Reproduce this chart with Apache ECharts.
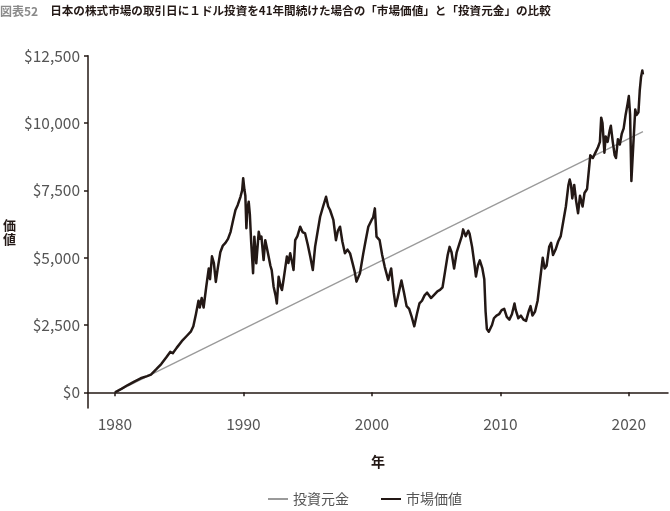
<!DOCTYPE html>
<html><head><meta charset="utf-8">
<script src="https://cdn.jsdelivr.net/npm/echarts@6/dist/echarts.min.js"></script>
<style>html,body{margin:0;padding:0;background:#fff}#c{width:670px;height:511px}</style>
</head><body><div id="c"></div>
<script>
const titleLabel = '図表52';
const titleText = '日本の株式市場の取引日に１ドル投資を41年間続けた場合の「市場価値」と「投資元金」の比較';
const seriesNames = ['投資元金', '市場価値'];
const xTicks = [1980, 1990, 2000, 2010, 2020];
const yTicks = [0, 2500, 5000, 7500, 10000, 12500];

const principalYears = [1980.0, 2021.1];
const principalValues = [0, 9680];

const marketYears = [
1980.0,1980.5,1981.0,1981.5,1982.0,1982.5,1982.8,1983.2,1983.6,1984.0,1984.3,1984.5,1984.8,1985.2,1985.6,1985.9,
1986.1,1986.3,1986.5,1986.6,1986.75,1986.9,1987.1,1987.3,1987.4,1987.55,1987.7,1987.85,1988.0,1988.2,1988.4,1988.6,1988.8,
1989.0,1989.2,1989.38,1989.55,1989.77,1989.9,1989.98,1990.08,1990.15,1990.23,1990.3,1990.41,1990.5,1990.6,1990.75,1990.85,
1991.0,1991.19,1991.3,1991.4,1991.57,1991.7,1991.85,1991.96,1992.1,1992.2,1992.35,1992.5,1992.6,1992.74,1992.9,
1993.0,1993.12,1993.25,1993.38,1993.5,1993.64,1993.8,1993.9,1994.03,1994.2,1994.42,1994.6,1994.8,1995.0,1995.2,1995.4,1995.58,1995.75,1995.97,
1996.2,1996.43,1996.6,1996.74,1997.0,1997.2,1997.35,1997.52,1997.7,1997.9,1998.1,1998.3,1998.5,1998.65,1998.8,
1999.07,1999.33,1999.5,1999.72,1999.98,2000.1,2000.23,2000.36,2000.6,2000.8,2001.0,2001.27,2001.5,2001.7,2001.85,
2002.0,2002.3,2002.5,2002.7,2002.9,2003.1,2003.3,2003.5,2003.7,2003.9,2004.1,2004.3,2004.6,2004.9,2005.1,2005.3,2005.5,2005.7,2005.9,
2006.05,2006.2,2006.4,2006.6,2006.8,2007.0,2007.1,2007.3,2007.5,2007.6,2007.8,2008.0,2008.1,2008.25,2008.4,2008.6,2008.75,2008.85,2008.95,
2009.1,2009.2,2009.35,2009.5,2009.7,2009.9,2010.1,2010.3,2010.5,2010.7,2010.9,2011.1,2011.2,2011.4,2011.6,2011.8,
2012.0,2012.2,2012.35,2012.5,2012.7,2012.9,2013.1,2013.3,2013.45,2013.6,2013.8,2013.95,2014.1,2014.3,2014.5,2014.7,2014.9,
2015.1,2015.3,2015.4,2015.5,2015.6,2015.75,2015.9,2016.05,2016.2,2016.4,2016.55,2016.75,2016.9,2017.0,2017.2,2017.4,2017.6,2017.75,2017.85,2017.95,
2018.1,2018.2,2018.35,2018.5,2018.6,2018.75,2018.9,2019.0,2019.15,2019.3,2019.45,2019.6,2019.75,2019.9,2020.0,2020.1,2020.2,2020.35,2020.5,2020.6,2020.75,2020.85,2020.95,2021.05,2021.1
];
const marketValues = [
0,130,270,400,520,600,660,850,1050,1300,1500,1450,1650,1900,2100,2250,
2450,2900,3400,3150,3500,3150,3900,4600,4200,5050,4800,4100,4600,5200,5450,5550,5700,
5960,6400,6770,6950,7260,7500,7950,7510,7300,6090,6800,7080,6600,5600,4420,5780,
4790,5960,5700,5780,4910,5650,5300,5040,4700,4540,3920,3600,3300,4290,3920,
3800,4170,4600,5040,4800,5160,4800,4540,5650,5800,6150,5950,5900,5500,5040,4540,5410,5900,6520,
6900,7260,6900,6770,6400,5650,6000,6150,5600,5160,5300,5160,4790,4500,4110,
4420,5160,5600,6150,6400,6500,6830,5780,5650,5100,4660,4170,4600,3700,3200,
3500,4150,3700,3200,3100,2800,2450,2900,3300,3400,3600,3700,3500,3650,3750,3800,3900,4500,5100,
5400,5200,4600,5200,5500,5800,6050,5800,6000,5900,5400,4700,4300,4700,4900,4600,4200,3000,2350,
2250,2200,2500,2750,2850,2900,3050,3100,2800,2700,2900,3300,3050,2750,2850,2700,
2650,3000,3200,2850,3000,3400,4200,5000,4600,4700,5400,5550,5100,5300,5600,5800,6350,
6900,7700,7900,7700,7200,7700,7100,6650,7300,6900,7400,7550,8300,8800,8700,8900,9100,9300,10200,10000,
8900,9500,9300,9700,9900,9300,8800,8700,9400,9200,9600,9800,10300,10700,11000,10300,7850,9200,10500,10300,10400,11200,11700,11950,11800
];

const pair = (xs, ys) => xs.map((x, i) => [x, ys[i]]);
const FONT = '"Noto Sans CJK JP", "Noto Sans", sans-serif';
const chart = echarts.init(document.getElementById('c'), null, {renderer: 'canvas'});
chart.setOption({
  animation: false,
  backgroundColor: '#fff',
  textStyle: {fontFamily: FONT},
  title: {
    left: 0, top: 2, padding: 0,
    text: '{a|' + titleLabel + '}{g| }{b|' + titleText + '}',
    textStyle: {
      rich: {
        a: {fontSize: 12, color: '#8a8a8a', fontFamily: FONT},
        g: {width: 12},
        b: {fontSize: 11.6, fontWeight: 'bold', color: '#231815', fontFamily: FONT}
      }
    }
  },
  legend: {
    top: 492, left: 268, padding: 0,
    icon: 'rect', itemWidth: 20, itemHeight: 2, itemGap: 32, itemTextGap: 5,
    textStyle: {fontSize: 14, color: '#555', fontFamily: FONT},
    data: [
      {name: seriesNames[0], itemStyle: {color: '#9a9a9a'}},
      {name: seriesNames[1], itemStyle: {color: '#231815'}}
    ]
  },
  grid: {left: 87, right: 2, top: 55.7, bottom: 103, containLabel: false},
  xAxis: {
    type: 'value', min: 1977.9, max: 2023.05,
    name: '年', nameLocation: 'middle', nameGap: 47,
    nameTextStyle: {fontSize: 14, fontWeight: 'bold', color: '#231815'},
    axisLine: {lineStyle: {color: '#231815', width: 1.5}},
    axisTick: {show: true, length: 4, customValues: xTicks, lineStyle: {color: '#231815', width: 1.5}},
    axisLabel: {customValues: xTicks, fontSize: 15.5, color: '#555', margin: 8, formatter: v => String(v)},
    splitLine: {show: false}
  },
  yAxis: {
    type: 'value', min: -583, max: 12500,
    name: '価\n値', nameLocation: 'middle', nameGap: 72, nameRotate: 0,
    nameTextStyle: {fontSize: 13, fontWeight: 'bold', color: '#231815', lineHeight: 14},
    axisLine: {show: true, lineStyle: {color: '#231815', width: 1.5}},
    axisTick: {show: true, length: 4, customValues: yTicks, lineStyle: {color: '#231815', width: 1.5}},
    axisLabel: {customValues: yTicks, fontSize: 15.5, color: '#555', margin: 8,
      formatter: v => '$' + Number(v).toLocaleString('en-US')},
    splitLine: {show: false}
  },
  series: [
    {name: seriesNames[0], type: 'line', symbol: 'none', data: pair(principalYears, principalValues),
     lineStyle: {color: '#9a9a9a', width: 1.3}, itemStyle: {color: '#9a9a9a'}, z: 2},
    {name: seriesNames[1], type: 'line', symbol: 'none', data: pair(marketYears, marketValues),
     lineStyle: {color: '#231815', width: 2.5, join: 'round'}, itemStyle: {color: '#231815'}, z: 3}
  ]
});
</script></body></html>
